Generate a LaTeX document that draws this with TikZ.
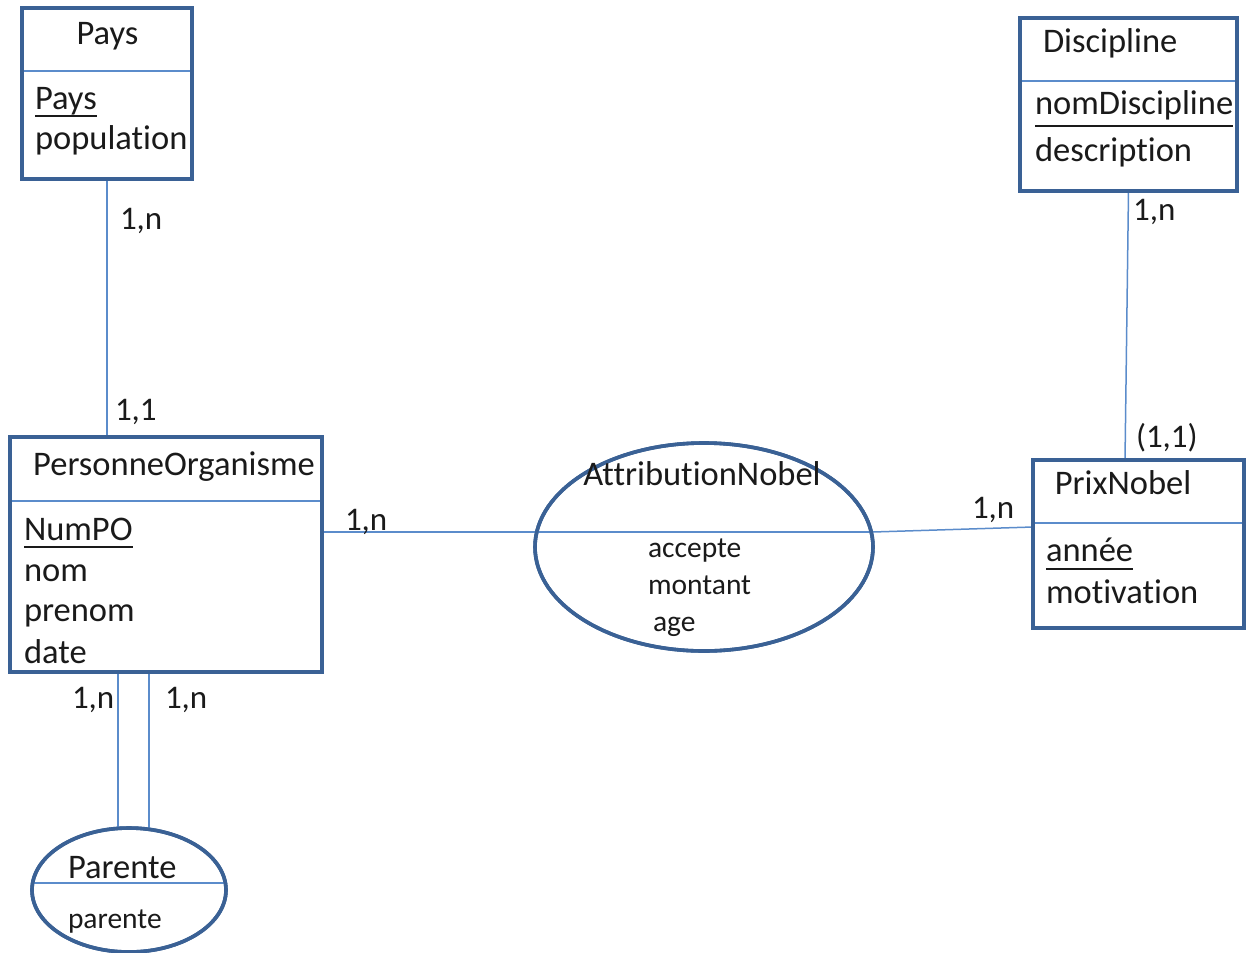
\documentclass[tikz,border=0pt]{standalone}
\usepackage{fontspec}
\setmainfont{Carlito}[Ligatures=NoCommon]
\usetikzlibrary{shapes.geometric,calc}
\definecolor{edgec}{HTML}{3A6195}
\definecolor{connc}{HTML}{5B8CCB}
\definecolor{txtc}{HTML}{1A1A1A}
\begin{document}
\begin{tikzpicture}[x=1pt,y=-1pt,
  box/.style={draw=edgec,line width=3.6pt,rectangle,inner sep=0pt,outer sep=0pt},
  rel/.style={draw=edgec,line width=3.6pt,ellipse,inner sep=0pt,outer sep=0pt},
  conn/.style={draw=connc,line width=1.5pt},
  txt/.style={inner sep=0pt,outer sep=0pt,anchor=base west,text=txtc,font=\fontsize{34.5}{40}\selectfont},
  ttl/.style={inner sep=0pt,outer sep=0pt,anchor=base,text=txtc,font=\fontsize{34.5}{40}\selectfont},
  small/.style={inner sep=0pt,outer sep=0pt,anchor=base west,text=txtc,font=\fontsize{29.5}{35}\selectfont},
  card/.style={inner sep=0pt,outer sep=0pt,anchor=base west,text=txtc,font=\fontsize{33}{38}\selectfont},
  uline/.style={draw=txtc,line width=2pt}]
\fill[white] (0,0) rectangle (1246,952);
\useasboundingbox (0,0) rectangle (1246,952);

% entity boxes
\node[box,minimum width=170pt,minimum height=171pt,anchor=north west] (pays) at (22,8) {};
\node[box,minimum width=217pt,minimum height=173pt,anchor=north west] (disc) at (1020,18) {};
\node[box,minimum width=312pt,minimum height=235pt,anchor=north west] (po) at (10,437) {};
\node[box,minimum width=211pt,minimum height=168pt,anchor=north west] (pn) at (1033,460) {};

% relationship ellipses
\node[rel,minimum width=338pt,minimum height=208pt] (an) at (704,547) {};
\node[rel,minimum width=194pt,minimum height=124pt] (par) at (129,890) {};

% helper coordinates
\coordinate (yPays) at (0,71);
\coordinate (yDisc) at (0,81);
\coordinate (yPO) at (0,501);
\coordinate (yPN) at (0,523);
\coordinate (yAN) at (0,532);
\coordinate (yPNin) at (0,527);
\coordinate (yPar) at (0,883);
\coordinate (xL) at (118,0);
\coordinate (xR) at (149,0);
\coordinate (xPN) at (1125,0);

% dividers
\draw[conn] (pays.west |- yPays) -- (pays.east |- yPays);
\draw[conn] (disc.west |- yDisc) -- (disc.east |- yDisc);
\draw[conn] (po.west |- yPO) -- (po.east |- yPO);
\draw[conn] (pn.west |- yPN) -- (pn.east |- yPN);
\draw[conn] (an.west |- yAN) -- (an.east |- yAN);
\draw[conn] (par.west |- yPar) -- (par.east |- yPar);

% connectors
\draw[conn] (pays.south) -- (po.north -| pays.south);
\draw[conn] (disc.south) -- (pn.north -| xPN);
\draw[conn] (po.east |- yAN) -- (an.west |- yAN);
\draw[conn] (an.east |- yAN) -- (pn.west |- yPNin);
\draw[conn] (po.south -| xL) -- (par.north -| xL);
\draw[conn] (po.south -| xR) -- (par.north -| xR);

% redraw outlines on top
\node[box,minimum width=170pt,minimum height=171pt,anchor=north west] at (22,8) {};
\node[box,minimum width=217pt,minimum height=173pt,anchor=north west] at (1020,18) {};
\node[box,minimum width=312pt,minimum height=235pt,anchor=north west] at (10,437) {};
\node[box,minimum width=211pt,minimum height=168pt,anchor=north west] at (1033,460) {};
\node[rel,minimum width=338pt,minimum height=208pt] at (704,547) {};
\node[rel,minimum width=194pt,minimum height=124pt] at (129,890) {};

% Pays
\node[ttl] (tPays) at (107.5,45) {Pays};
\node[txt] (kPays) at (35,110) {Pays};
\draw[uline] ($(kPays.base west)+(0,6)$) -- ($(kPays.base east)+(0,6)$);
\node[txt] (aPop) at (35,150) {population};

% Discipline
\node[txt] (tDisc) at (1043,53) {Discipline};
\node[txt] (kDisc) at (1035,115) {nomDiscipline};
\draw[uline] ($(kDisc.base west)+(0,11)$) -- ($(kDisc.base east)+(0,11)$);
\node[txt] (aDesc) at (1035,162) {description};

% PersonneOrganisme
\node[ttl] (tPO) at (174,475) {PersonneOrganisme};
\node[txt] (kPO) at (24,540) {NumPO};
\draw[uline] ($(kPO.base west)+(0,7)$) -- ($(kPO.base east)+(0,7)$);
\node[txt] (aNom) at (24,581) {nom};
\node[txt] (aPrenom) at (24,621) {prenom};
\node[txt] (aDate) at (24,663) {date};

% PrixNobel
\node[ttl] (tPN) at (1123,494) {PrixNobel};
\node[txt] (kPN) at (1046,561) {année};
\draw[uline] ($(kPN.base west)+(0,8)$) -- ($(kPN.base east)+(0,8)$);
\node[txt] (aMot) at (1046,603) {motivation};

% AttributionNobel
\node[ttl] (tAN) at (702,485) {AttributionNobel};
\node[small] (aAcc) at (648,557) {accepte};
\node[small] (aMon) at (648,594) {montant};
\node[small] (aAge) at (653,631) {age};

% Parente
\node[txt] (tPar) at (68,878) {Parente};
\node[small] (aPar) at (68,928) {parente};

% cardinalities
\node[card] (c1) at (120,229) {1,n};
\node[card] (c2) at (115,420) {1,1};
\node[card] (c3) at (345,530) {1,n};
\node[card] (c4) at (972,518) {1,n};
\node[card] (c5) at (1136,447) {(1,1)};
\node[card] (c6) at (1133,220) {1,n};
\node[card] (c7) at (72,708) {1,n};
\node[card] (c8) at (165,708) {1,n};
\end{tikzpicture}
\end{document}
